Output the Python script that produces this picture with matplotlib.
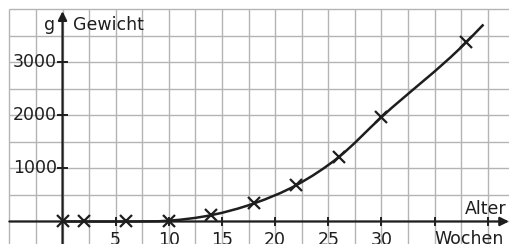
import numpy as np
import matplotlib.pyplot as plt
from matplotlib.path import Path
from matplotlib.patches import PathPatch

# Daten: Alter (Wochen) und Gewicht (g)
wochen = [0, 2, 6, 10, 14, 18, 22, 26, 30, 38]
gewicht = [0, 0, 0, 15, 120, 340, 685, 1215, 1965, 3380]
# Kurve laeuft etwas ueber den letzten Messpunkt hinaus
kurve_x = wochen + [39.6]
kurve_y = gewicht + [3710]

x_ticks = [5, 10, 15, 20, 25, 30, 35, 40]
x_labels = ["5", "10", "15", "20", "25", "30", "", ""]
y_ticks = [1000, 2000, 3000]
y_labels = ["1000", "2000", "3000"]

plt.rcParams['font.family'] = ['DejaVu Sans']
ink = '#1e1e1e'
fs = 12.5

fig = plt.figure(figsize=(5.09, 2.44), dpi=100)
ax = fig.add_axes([0, 0, 1, 1])
ax.set_xlim(-5.88, 42.0)
ax.set_ylim(-424, 4171)
ax.axis('off')

# Karoraster
ax.vlines(np.arange(-5, 43, 2.5), -600, 4000, color='#b4b4b4', lw=1.0, zorder=0)
ax.hlines(np.arange(-500, 4001, 500), -5, 45, color='#b4b4b4', lw=1.0, zorder=0)

# Achsen mit Pfeilen
ax.annotate('', xy=(42.0, 0), xytext=(-5, 0),
            arrowprops=dict(arrowstyle='-|>', lw=1.6, color=ink, mutation_scale=13,
                            shrinkA=0, shrinkB=0), zorder=2)
ax.annotate('', xy=(0, 3960), xytext=(0, -600),
            arrowprops=dict(arrowstyle='-|>', lw=1.6, color=ink, mutation_scale=13,
                            shrinkA=0, shrinkB=0), zorder=2)

# Teilstriche und Beschriftung
for xt, lab in zip(x_ticks, x_labels):
    ax.plot([xt, xt], [-65, 65], color=ink, lw=1.4, zorder=2)
    ax.text(xt, -175, lab, ha='center', va='top', fontsize=fs, color=ink)
for yt, lab in zip(y_ticks, y_labels):
    ax.plot([-0.4, 0.4], [yt, yt], color=ink, lw=1.4, zorder=2)
    ax.text(-0.55, yt, lab, ha='right', va='center', fontsize=fs, color=ink)

ax.text(-0.7, 3600, "g", ha='right', va='baseline', fontsize=fs, color=ink)
ax.text(0.95, 3600, "Gewicht", ha='left', va='baseline', fontsize=fs, color=ink)
ax.text(41.8, 140, "Alter", ha='right', va='baseline', fontsize=fs, color=ink)
ax.text(34.95, -165, "Wochen", ha='left', va='top', fontsize=fs, color=ink)

# glatte Kurve durch die Messpunkte (kubische Hermite-Segmente als Bezier)
kx = np.array(kurve_x, float)
ky = np.array(kurve_y, float)
m = np.gradient(ky, kx)
verts = [(kx[0], ky[0])]
codes = [Path.MOVETO]
for i in range(len(kx) - 1):
    h = kx[i + 1] - kx[i]
    verts += [(kx[i] + h / 3, ky[i] + m[i] * h / 3),
              (kx[i + 1] - h / 3, ky[i + 1] - m[i + 1] * h / 3),
              (kx[i + 1], ky[i + 1])]
    codes += [Path.CURVE4] * 3
ax.add_patch(PathPatch(Path(verts, codes), fill=False, lw=1.8, edgecolor=ink, zorder=3))

ax.plot(wochen, gewicht, linestyle='none', marker='x', markersize=9,
        markeredgewidth=1.6, color=ink, zorder=4)

fig.savefig('out.png', dpi=100)
